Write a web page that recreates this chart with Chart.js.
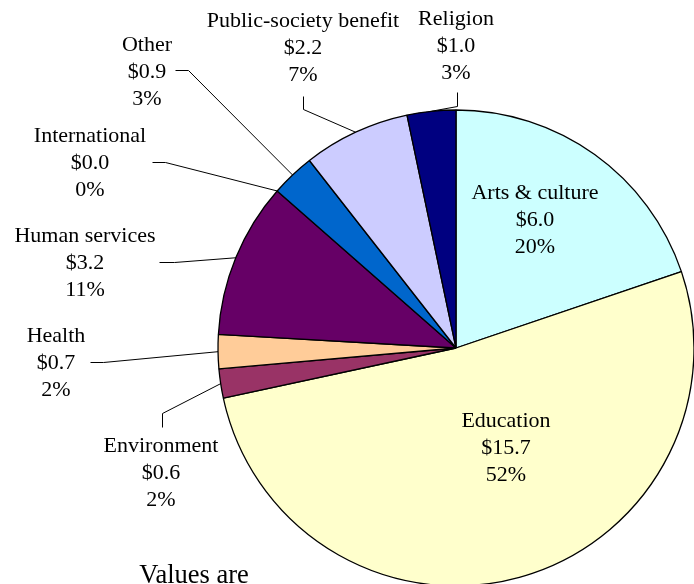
<!DOCTYPE html>
<html>
<head>
<meta charset="utf-8">
<script src="https://cdn.jsdelivr.net/npm/chart.js@4"></script>
<style>
html,body{margin:0;padding:0;background:#fff;overflow:hidden;}
#wrap{width:694px;height:584px;overflow:hidden;position:relative;}
canvas{display:block;}
</style>
</head>
<body>
<div id="wrap"><canvas id="c" width="694" height="600" style="width:694px;height:600px"></canvas></div>
<script>
const categories = ["Arts & culture","Education","Environment","Health","Human services","International","Other","Public-society benefit","Religion"];
const values = [6.0, 15.7, 0.6, 0.7, 3.2, 0.0, 0.9, 2.2, 1.0];
const colors = ["#CCFFFF","#FFFFCC","#993366","#FFCC99","#660066","#3366CC","#0066CC","#CCCCFF","#000080"];
const footnote = "Values are";

// label layout: text block centre x, first line y; optional leader (start, elbow)
const labelLayout = [
  {x:535, y:192},
  {x:506, y:420},
  {x:161, y:445, lead:[[162,427],[162,413]]},
  {x:56,  y:335, lead:[[90,362],[103,362]]},
  {x:85,  y:235, lead:[[159,262],[174,262]]},
  {x:90,  y:135, lead:[[152,162],[165,162]]},
  {x:147, y:44,  lead:[[175,70],[188,70]]},
  {x:303, y:20,  lead:[[303,96],[303,109]]},
  {x:456, y:18,  lead:[[457,92],[457,106]]}
];

const labelPlugin = {
  id:'pieLabels',
  afterDraw(chart){
    const ctx = chart.ctx;
    const meta = chart.getDatasetMeta(0);
    const ds = chart.data.datasets[0].data;
    const total = ds.reduce((a,b)=>a+b,0);
    ctx.save();
    ctx.fillStyle = '#000';
    ctx.strokeStyle = '#000';
    ctx.lineWidth = 1;
    ctx.font = '22px "Liberation Serif", "Times New Roman", serif';
    ctx.textAlign = 'center';
    ctx.textBaseline = 'middle';
    meta.data.forEach((arc, i) => {
      const L = labelLayout[i];
      const lines = [chart.data.labels[i], '$' + ds[i].toFixed(1), Math.round(ds[i]/total*100) + '%'];
      lines.forEach((t, k) => ctx.fillText(t, L.x, L.y + 1 + k*27));
      if (L.lead) {
        const p = arc.getProps(['x','y','startAngle','endAngle','outerRadius'], true);
        const mid = (p.startAngle + p.endAngle)/2;
        const ex = p.x + p.outerRadius*Math.cos(mid);
        const ey = p.y + p.outerRadius*Math.sin(mid);
        ctx.beginPath();
        ctx.moveTo(L.lead[0][0]+0.5, L.lead[0][1]+0.5);
        ctx.lineTo(L.lead[1][0]+0.5, L.lead[1][1]+0.5);
        ctx.lineTo(ex, ey);
        ctx.stroke();
      }
    });
    ctx.font = '26.5px "Liberation Serif", "Times New Roman", serif';
    ctx.fillText(footnote, 194, 576);
    ctx.restore();
  }
};

new Chart(document.getElementById('c'), {
  type:'pie',
  data:{
    labels:categories,
    datasets:[{data:values, backgroundColor:colors, borderColor:'#000', borderWidth:1.3}]
  },
  options:{
    responsive:false,
    animation:false,
    radius:238,
    layout:{padding:{left:218, right:0, top:110, bottom:14}},
    plugins:{legend:{display:false}, tooltip:{enabled:false}}
  },
  plugins:[labelPlugin]
});
</script>
</body>
</html>
